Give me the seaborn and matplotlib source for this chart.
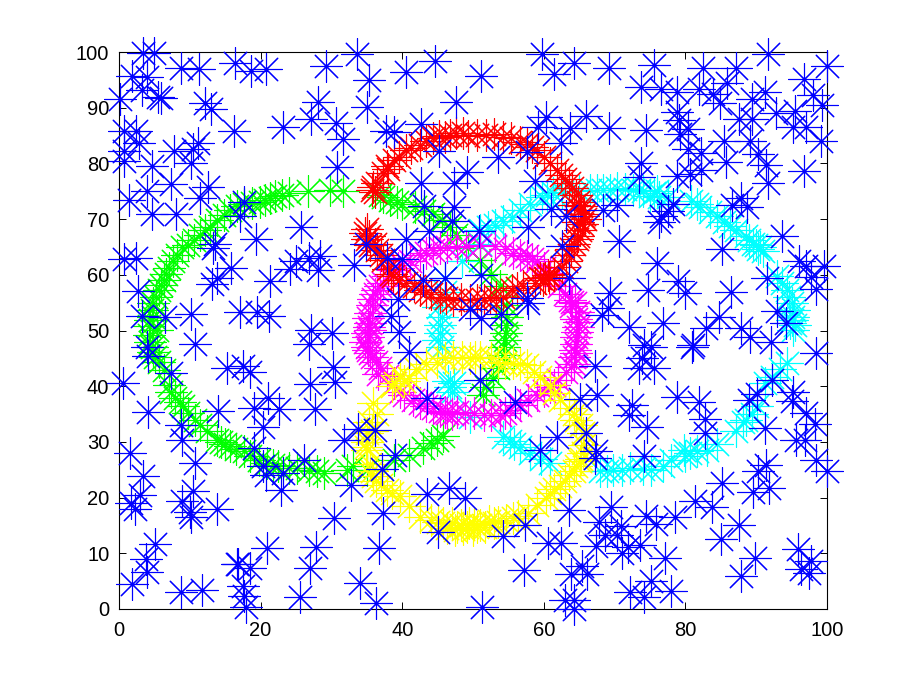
import numpy as np
import matplotlib
matplotlib.use('Agg')
import matplotlib.pyplot as plt
import seaborn as sns

# points
green_pts = [(26.7,75.1),(29.8,75.3),(31.7,75.1),(23.0,74.3),(21.3,73.7),(19.9,73.1),(17.6,72.7),(15.7,71.6),
    (13.8,69.8),(12.9,68.6),(11.4,67.1),(9.8,65.3),(8.9,65.0),(7.0,61.2),(6.3,59.1),(5.6,57.3),(4.8,54.9),(4.8,52.5),
    (4.4,51.9),(5.3,50.1),(4.4,48.0),(4.8,46.2),(5.6,44.4),(6.3,42.9),(7.9,37.8),(8.6,37.2),(9.8,35.1),(12.4,31.9),
    (13.8,30.4),(15.0,29.6),(15.7,29.3),(17.6,28.3),(20.9,26.2),(22.5,25.6),(25.1,25.3),(26.8,25.0),(28.9,24.4),
    (32.2,25.0),(33.1,25.6),(38.8,26.8),(43.0,28.9),(44.9,30.4),(45.8,31.0),(51.4,38.4),(51.9,39.9),(54.2,45.6),
    (54.5,48.3),(54.7,51.0),(54.8,52.5),(53.8,57.9),(51.0,62.7),(46.8,68.6),(44.4,71.0),(41.8,72.2),(40.0,72.8),
    (38.3,73.4),(37.3,74.0),(24.0,74.6),(22.1,74.1),(20.6,73.4),(18.8,72.9),(16.7,72.3),(14.8,70.7),(12.2,68.0),
    (10.6,66.2),(8.2,63.6),(7.6,62.4),(6.6,60.1),(5.9,58.2),(5.2,56.0),(4.6,53.6),(4.2,50.8),(4.3,49.2),(4.6,47.1),
    (5.1,45.2),(7.0,40.3),(7.3,39.0),(9.0,36.5),(10.7,33.9),(11.5,33.0),(14.4,30.0),(16.5,28.8),(18.5,27.4),(19.8,26.8),
    (21.8,25.9),(24.0,25.4),(27.9,24.8),(35.0,25.0),(40.9,27.6),(44.0,29.8),(52.8,41.5),(53.6,43.2),(54.6,49.6),
    (54.4,47.0),(54.7,54.5),(52.5,60.2),(49.3,64.8),(47.6,67.2),(45.6,69.9),(43.1,71.5),(39.2,73.0),(36.8,74.3)]
cyan_pts = [(68.4,75.2),(70.3,75.5),(72.6,75.2),(75.5,74.6),(81.6,72.8),(83.5,71.3),(85.4,69.5),(87.2,68.0),(89.6,65.6),
    (90.5,65.0),(92.9,59.7),(94.3,57.3),(95.0,54.9),(95.2,52.5),(94.8,51.3),(95.2,50.1),(94.3,44.1),(92.2,41.7),
    (90.1,36.4),(88.6,34.0),(87.2,31.9),(83.0,28.6),(80.6,28.0),(76.9,25.6),(75.2,25.0),(72.2,25.3),(69.8,25.0),
    (67.9,24.7),(60.9,26.2),(58.0,28.0),(55.2,30.1),(49.6,34.5),(46.8,39.9),(47.3,40.5),(45.1,48.3),(45.3,51.0),
    (45.6,52.5),(45.0,54.3),(46.1,59.4),(51.0,65.6),(51.0,68.0),(53.1,69.0),(55.5,70.4),(58.0,72.8),(59.7,74.0),
    (61.3,74.6),(66.5,75.2),(74.0,75.0),(75.0,74.1),(76.0,75.0),(76.3,74.0),(77.5,73.9),(80.8,73.2),(82.0,72.2),
    (84.4,70.5),(86.3,68.8),(88.5,67.0),(89.0,66.2),(90.0,65.4),(90.2,64.6),(91.0,64.3),(93.6,58.5),(94.6,56.0),
    (95.3,53.7),(95.0,51.8),(95.5,51.0),(93.4,43.0),(91.3,40.5),(89.4,35.0),(88.2,33.5),(84.5,29.6),(81.6,28.4),
    (80.0,27.5),(79.8,28.5),(78.0,26.8),(74.0,25.2),(71.0,25.0),(68.9,24.8),(59.6,27.0),(56.6,29.0),(55.8,29.6),
    (54.2,30.8),(47.0,39.0),(46.5,41.0),(45.6,47.0),(45.3,49.6),(46.0,57.0),(48.5,62.5),(52.1,68.5),(54.3,69.7),
    (56.7,71.6),(60.5,74.3),(62.5,74.8),(65.0,75.1),(67.5,75.3),(69.3,75.3),(71.5,75.4),(73.5,75.2)]
magenta_pts = [(46.3,65.0),(44.4,64.4),(42.5,63.5),(41.1,62.4),(53.1,65.2),(55.7,63.9),(57.6,63.3),(59.0,62.4),(60.9,60.3),
    (63.7,55.5),(64.4,54.9),(64.6,52.0),(64.9,50.7),(64.6,48.9),(64.4,46.5),(64.2,45.3),(63.2,42.6),(60.9,39.9),
    (59.0,38.4),(56.6,36.6),(55.2,35.8),(53.8,34.9),(51.5,34.9),(50.1,35.1),(47.7,35.4),(46.3,35.1),(44.4,36.0),
    (42.5,36.9),(39.7,39.0),(38.8,40.5),(36.9,43.2),(35.5,45.9),(35.0,47.1),(35.2,48.9),(35.5,50.1),(35.5,51.3),
    (35.5,53.1),(36.4,57.3),(37.3,58.5),(38.7,60.9),(47.8,65.0),(49.0,65.2),(45.3,64.8),(43.4,64.0),(40.0,61.7),
    (51.0,65.3),(54.5,64.6),(56.7,63.6),(58.3,62.9),(60.0,61.3),(62.2,58.0),(63.0,56.5),(64.0,55.2),(64.8,53.4),
    (65.0,51.5),(64.7,49.7),(64.5,47.5),(64.3,44.0),(63.8,43.5),(62.0,41.2),(61.5,40.3),(60.0,39.1),(57.8,37.5),
    (54.5,35.2),(52.6,34.9),(48.8,35.2),(47.0,35.0),(46.0,35.4),(45.3,35.5),(43.4,36.4),(41.5,37.6),(40.3,38.5),
    (37.8,41.8),(36.3,44.4),(35.8,45.2),(35.1,46.5),(34.8,48.0),(35.0,49.5),(35.3,50.7),(35.2,52.2),(35.7,54.5),
    (35.9,55.6),(36.1,56.5),(36.8,57.9),(38.0,59.7),(39.4,61.2),(36.6,42.2),(63.9,54.4),(64.6,46.0)]
red_pts = [(35.9,75.8),(35.7,75.2),(37.3,78.2),(38.8,80.6),(40.6,82.4),(42.5,83.3),(44.4,84.5),(46.8,85.1),(48.6,85.4),
    (50.5,85.1),(51.9,85.1),(54.3,84.8),(56.6,83.9),(59.0,82.4),(60.9,80.0),(61.8,78.8),(63.5,76.4),(64.6,74.3),
    (65.1,71.6),(65.4,69.2),(65.1,68.0),(64.2,65.6),(63.5,63.6),(60.2,59.4),(59.5,59.4),(55.5,57.3),(54.3,56.0),
    (51.5,55.5),(49.6,55.5),(47.2,55.5),(45.3,56.1),(42.5,57.3),(40.6,58.5),(38.7,59.7),(37.3,62.7),(36.4,64.5),
    (35.0,66.5),(35.0,68.3),(36.5,76.5),(36.2,74.8),(38.0,79.0),(37.9,79.5),(39.5,81.2),(41.3,82.8),(43.3,84.0),
    (45.2,84.9),(46.0,84.7),(47.6,85.5),(49.3,85.0),(53.0,85.2),(55.4,84.5),(57.6,83.4),(58.3,82.9),(60.0,81.1),
    (62.4,78.0),(63.0,77.2),(64.0,75.5),(64.9,73.1),(65.3,72.4),(65.6,70.5),(65.8,70.0),(64.8,67.0),(64.7,66.4),
    (63.9,64.6),(63.1,62.5),(62.5,61.4),(61.5,60.2),(60.8,59.6),(58.7,58.6),(57.0,58.0),(56.2,57.6),(53.2,56.1),
    (52.4,55.8),(50.6,55.4),(48.3,55.6),(46.2,55.8),(44.1,56.6),(43.4,57.0),(41.6,58.0),(39.6,59.0),(38.0,61.0),
    (37.0,63.5),(35.5,65.4),(34.8,67.5),(35.3,67.0),(36.2,65.5),(38.4,60.2),(59.9,59.0),(60.6,59.9),(64.9,69.5),
    (65.7,71.0),(64.3,72.5)]
yellow_pts = [(42.0,43.0),(39.0,40.5),(39.7,42.0),(44.9,44.4),(47.2,45.3),(49.6,45.0),(35.9,37.0),(35.0,31.6),(35.0,28.6),
    (35.9,23.8),(37.8,21.4),(39.7,20.2),(42.5,16.6),(45.8,15.4),(47.7,14.8),(49.1,14.8),(50.5,14.8),(51.0,15.1),
    (52.9,15.4),(55.7,16.3),(57.8,17.2),(60.9,20.8),(63.0,22.9),(64.6,25.6),(65.6,28.0),(65.6,31.6),(64.6,34.0),
    (62.3,37.5),(60.9,40.2),(57.6,43.8),(55.7,44.1),(53.6,44.4),(51.0,45.3),(46.3,14.5),(47.0,15.5),(47.5,14.2),
    (48.3,15.0),(48.6,14.3),(49.5,15.4),(50.0,14.2),(50.2,15.2),(51.7,14.7),(52.2,15.8),(53.6,15.6),(54.7,16.0),
    (56.3,16.7),(59.0,18.6),(60.3,20.0),(61.5,21.5),(62.3,22.0),(63.5,24.0),(64.2,24.8),(65.1,26.5),(65.3,27.0),
    (65.7,29.5),(65.3,33.0),(64.2,35.0),(63.5,36.0),(61.5,38.8),(59.5,41.6),(58.6,42.6),(56.6,44.0),(54.5,44.2),
    (52.5,45.0),(50.3,45.2),(48.4,45.2),(46.0,45.0),(43.3,44.0),(41.0,41.5),(40.2,41.0),(38.5,40.0),(36.5,35.0),
    (35.3,33.5),(35.0,30.0),(34.9,29.0),(35.5,26.0),(35.8,24.8),(36.3,23.0),(37.0,22.3),(38.5,20.8),(41.0,18.5),
    (44.0,16.0),(45.0,15.6),(35.8,32.0)]
blue_pts = [(3.4,99.9),(5.0,99.8),(1.8,95.7),(4.0,95.5),(8.7,97.1),(11.3,96.9),(16.4,98.0),(18.6,96.5),(20.8,96.9),
    (29.3,97.5),(33.6,99.6),(35.3,95.0),(40.6,96.4),(44.6,98.3),(3.3,93.2),(5.5,92.0),(6.0,91.7),(0.1,91.6),
    (12.2,90.9),(13.0,89.8),(28.1,91.0),(35.0,90.2),(47.6,91.1),(27.1,87.9),(30.7,87.2),(23.1,86.5),(16.3,85.9),
    (0.7,85.8),(2.4,85.9),(37.7,85.8),(38.8,85.7),(42.7,87.0),(31.6,84.4),(2.8,83.6),(11.1,83.7),(0.7,82.2),
    (7.8,82.3),(10.4,82.5),(0.7,80.5),(4.6,79.6),(10.2,80.1),(45.2,82.3),(30.8,79.4),(49.2,78.5),(42.7,76.4),
    (47.3,76.5),(7.4,76.3),(12.6,75.8),(3.9,75.1),(1.4,73.4),(11.4,73.7),(4.7,71.0),(8.0,71.0),(17.7,73.0),
    (17.1,70.5),(43.1,72.4),(47.3,72.2),(47.1,69.7),(25.7,68.5),(19.4,66.4),(43.8,67.8),(40.5,66.4),(13.5,65.6),
    (13.3,64.8),(34.9,65.5),(0.7,62.8),(2.4,63.1),(25.0,62.4),(26.9,63.1),(28.4,63.4),(24.2,61.0),(28.1,60.9),
    (33.2,61.7),(37.8,63.0),(40.0,62.8),(15.8,61.2),(13.9,59.4),(13.1,58.4),(21.3,58.8),(42.9,59.1),(46.1,59.5),
    (2.7,57.1),(3.2,52.6),(6.5,52.4),(10.2,53.0),(17.1,53.3),(19.5,53.3),(21.2,52.6),(39.4,55.6),(38.4,52.6),
    (49.6,53.8),(51.1,95.7),(59.8,99.6),(64.2,98.1),(61.5,96.0),(69.2,97.1),(75.6,97.6),(82.5,97.2),(87.1,97.1),
    (91.7,99.6),(100.0,97.5),(96.8,95.2),(73.7,93.7),(76.6,93.4),(78.8,92.9),(81.9,93.4),(83.9,92.4),(85.9,94.4),
    (84.9,90.8),(89.4,91.6),(91.2,92.9),(98.0,92.3),(99.3,90.4),(92.8,89.0),(95.5,89.4),(89.4,88.0),(87.5,87.9),
    (95.2,86.6),(97.0,86.5),(99.2,84.0),(78.8,89.3),(79.1,87.8),(80.4,86.1),(79.2,85.2),(80.3,82.5),(60.3,88.3),
    (66.0,88.5),(59.2,86.6),(63.7,86.4),(69.2,86.3),(74.5,86.0),(62.4,83.7),(85.4,84.1),(89.1,84.0),(53.6,81.1),
    (57.6,82.0),(82.2,81.8),(90.3,81.7),(73.7,80.0),(85.8,80.2),(91.4,79.8),(73.5,77.5),(78.8,77.7),(80.6,78.1),
    (82.2,78.9),(96.7,78.6),(58.8,76.9),(91.6,76.5),(61.0,71.8),(63.2,70.6),(68.4,71.6),(70.4,72.5),(78.2,72.7),
    (77.5,71.5),(86.6,72.5),(88.7,72.2),(87.8,73.7),(76.6,70.6),(76.3,69.4),(57.7,68.6),(50.9,67.8),(70.6,66.1),
    (93.7,67.0),(62.6,65.2),(85.1,64.6),(76.0,62.1),(96.1,62.5),(97.1,61.6),(99.6,61.5),(97.7,59.6),(91.5,59.5),
    (51.1,60.0),(63.5,59.4),(79.0,58.8),(86.5,57.0),(74.7,57.2),(79.9,56.7),(69.4,56.8),(98.5,57.4),(57.6,55.8),
    (57.7,54.9),(69.1,54.0),(68.2,52.7),(92.9,53.5),(53.9,52.9),(51.2,52.2),(72.1,50.7),(76.9,51.3),(82.9,50.5),
    (84.8,52.4),(87.9,50.5),(94.2,51.3),(27.1,50.1),(30.1,49.5),(39.6,49.8),(26.9,47.6),(10.8,47.6),(41.0,46.2),
    (3.9,47.0),(4.1,45.4),(30.2,43.5),(30.5,40.8),(27.0,40.4),(15.3,43.2),(17.5,43.7),(18.5,42.5),(7.4,42.4),
    (0.6,40.6),(21.0,37.8),(19.1,36.0),(22.6,35.9),(14.0,35.6),(4.1,35.4),(27.7,35.9),(43.5,37.8),(51.0,41.1),
    (20.4,32.6),(8.7,33.0),(8.9,30.4),(33.7,32.3),(36.2,32.2),(31.8,30.4),(10.8,26.2),(1.5,28.0),(19.0,28.9),
    (39.0,27.7),(37.2,25.2),(26.2,26.8),(20.4,25.6),(20.7,24.1),(23.1,24.5),(3.4,23.9),(32.8,22.3),(22.9,21.4),
    (46.6,21.7),(43.5,20.6),(48.9,20.0),(2.9,20.5),(1.7,19.0),(2.3,18.0),(10.4,21.1),(8.9,19.3),(10.0,17.4),
    (10.1,16.6),(13.9,17.9),(37.3,17.2),(30.3,16.3),(45.1,13.9),(5.1,11.7),(20.9,10.9),(27.8,11.2),(36.7,10.9),
    (3.8,8.9),(4.0,6.6),(1.9,4.4),(16.7,8.0),(16.8,8.0),(18.5,7.3),(27.0,7.3),(8.7,3.1),(11.7,3.4),(17.5,4.1),
    (17.7,2.3),(17.9,0.3),(25.6,2.2),(34.0,4.7),(36.3,1.0),(81.1,47.4),(81.0,47.0),(74.1,47.4),(75.2,47.0),
    (92.1,48.0),(89.1,48.9),(98.4,45.9),(73.8,45.0),(73.5,43.2),(75.5,43.3),(67.3,43.6),(92.3,41.2),(95.2,38.9),
    (95.0,37.4),(67.5,38.4),(65.1,37.7),(56.0,37.2),(78.8,38.0),(81.9,37.1),(90.1,38.6),(89.0,37.5),(72.4,36.6),
    (72.1,34.8),(97.0,35.1),(82.7,34.1),(74.6,32.6),(91.2,32.5),(98.3,33.2),(82.8,31.6),(61.9,30.8),(65.9,31.6),
    (95.6,30.4),(96.9,30.4),(59.4,28.6),(67.4,28.4),(67.3,27.1),(74.2,27.5),(98.5,26.8),(100.0,24.7),(91.4,25.9),
    (90.3,24.8),(85.2,22.7),(91.8,21.7),(89.5,21.0),(81.3,19.3),(83.8,18.3),(69.5,18.4),(63.6,17.8),(74.4,16.7),
    (78.5,16.5),(75.9,15.3),(67.8,15.7),(70.9,14.9),(87.5,15.0),(57.4,15.0),(54.3,13.1),(68.6,13.2),(70.3,13.2),
    (67.4,11.4),(60.6,11.8),(62.4,11.9),(73.6,11.5),(71.9,11.2),(71.1,10.0),(85.0,12.6),(77.1,9.2),(89.8,9.1),
    (95.9,10.8),(97.8,8.7),(65.4,7.8),(66.1,6.2),(63.8,6.3),(57.2,7.0),(87.9,6.0),(96.3,7.1),(97.4,6.4),(75.1,5.0),
    (72.2,3.0),(78.0,3.2),(74.2,2.1),(63.0,1.6),(64.2,1.6),(64.2,0.0),(51.3,0.4)]
x_ticks = [0, 20, 40, 60, 80, 100]
y_ticks = [0, 10, 20, 30, 40, 50, 60, 70, 80, 90, 100]

sns.set_style('ticks')
plt.rcParams['font.family'] = ['Liberation Sans', 'DejaVu Sans']

fig = plt.figure(figsize=(9.13, 6.87), dpi=100)
ax = fig.add_axes([119/913, 1-609/687, (827-119)/913, (609-52)/687])

star = (8, 2, 0)
for pts, col in [(green_pts, '#00ff00'), (cyan_pts, '#00ffff'), (magenta_pts, '#ff00ff'),
                 (red_pts, '#ff0000'), (yellow_pts, '#ffff00'), (blue_pts, '#0000ff')]:
    pts = np.array(pts)
    sns.scatterplot(x=pts[:, 0], y=pts[:, 1], marker=star, s=530, color=col, linewidth=0.8,
                    clip_on=False, legend=False, ax=ax, zorder=3)

ax.set_xlim(0, 100)
ax.set_ylim(0, 100)
ax.set_xticks(x_ticks)
ax.set_yticks(y_ticks)
ax.tick_params(direction='in', length=5, width=0.7, top=True, right=True, labelsize=14.5, colors='black')
ax.tick_params(axis='x', pad=9)
ax.tick_params(axis='y', pad=7)
for s in ax.spines.values():
    s.set_visible(True)
    s.set_linewidth(0.8)
    s.set_color('black')

fig.savefig('out.png', dpi=100)
